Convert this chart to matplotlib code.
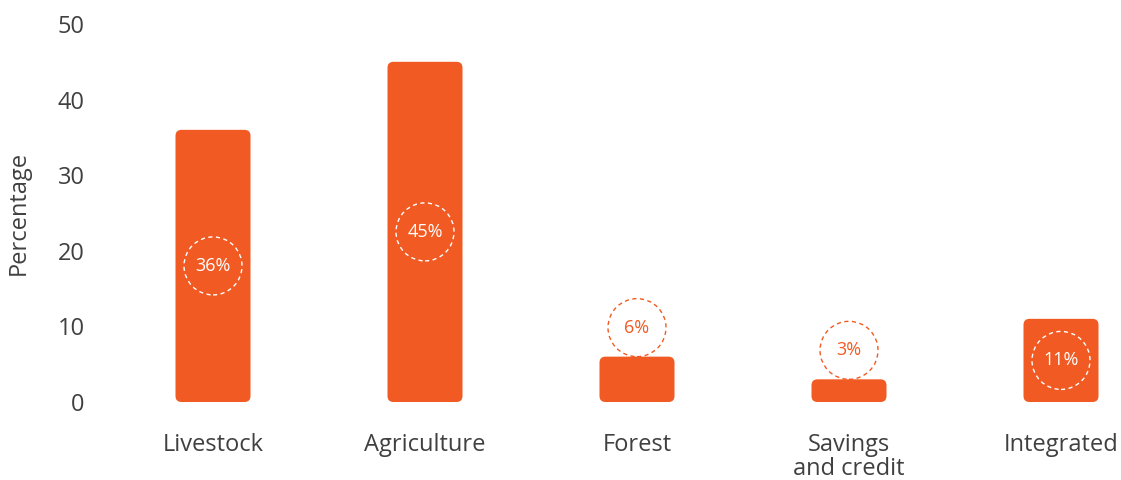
import matplotlib
matplotlib.use("Agg")
import matplotlib.pyplot as plt
from matplotlib.patches import FancyBboxPatch

categories = ["Livestock", "Agriculture", "Forest", "Savings\nand credit", "Integrated"]
values = [36, 45, 6, 3, 11]
yticks = [0, 10, 20, 30, 40, 50]

ORANGE = "#F15A22"
TEXT = "#404040"
plt.rcParams['font.family'] = ['Open Sans', 'DejaVu Sans']

W, H = 1121, 480
fig = plt.figure(figsize=(W / 100, H / 100), dpi=100)
ax_left, ax_right = 100, 1121
ax_bottom, ax_top = 78, 456
ax = fig.add_axes([ax_left / W, ax_bottom / H, (ax_right - ax_left) / W, (ax_top - ax_bottom) / H])

x0px, step = 213, 212
xmin = -(x0px - ax_left) / step
xmax = (ax_right - x0px) / step
ax.set_xlim(xmin, xmax)
ax.set_ylim(0, 50)

px_per_x = step
px_per_y = (ax_top - ax_bottom) / 50
aspect = px_per_x / px_per_y

bar_w = 75 / step
r_px = 6
for i, v in enumerate(values):
    p = FancyBboxPatch((i - bar_w / 2, 0), bar_w, v,
                       boxstyle=f"round,pad=0,rounding_size={r_px / px_per_x}",
                       mutation_aspect=aspect, facecolor=ORANGE, edgecolor="none",
                       clip_on=False)
    ax.add_patch(p)

circ_r_px = 29
circ_r = circ_r_px / px_per_y
size = (2 * circ_r_px * 0.72) ** 2
for i, v in enumerate(values):
    if v / 2 > circ_r:
        cy = v / 2
        col = "white"
    else:
        cy = v + circ_r
        col = ORANGE
    ax.scatter([i], [cy], s=size, facecolors="none", edgecolors=col,
               linewidths=1.0, linestyles=(0, (3, 2.5)), clip_on=False, zorder=3)
    ax.text(i, cy, f"{v}%", ha="center", va="center", color=col, fontsize=13, zorder=4)

ax.set_xticks(range(len(categories)))
ax.set_xticklabels(categories, fontsize=17, color=TEXT, linespacing=1.0)
ax.set_yticks(yticks)
ax.set_yticklabels([str(t) for t in yticks], fontsize=17, color=TEXT)
ax.tick_params(axis="x", length=0, pad=22)
ax.tick_params(axis="y", length=0, pad=11)
ax.set_ylabel("Percentage", fontsize=17, color=TEXT, labelpad=19)
for s in ax.spines.values():
    s.set_visible(False)

fig.savefig("out.png", dpi=100)
